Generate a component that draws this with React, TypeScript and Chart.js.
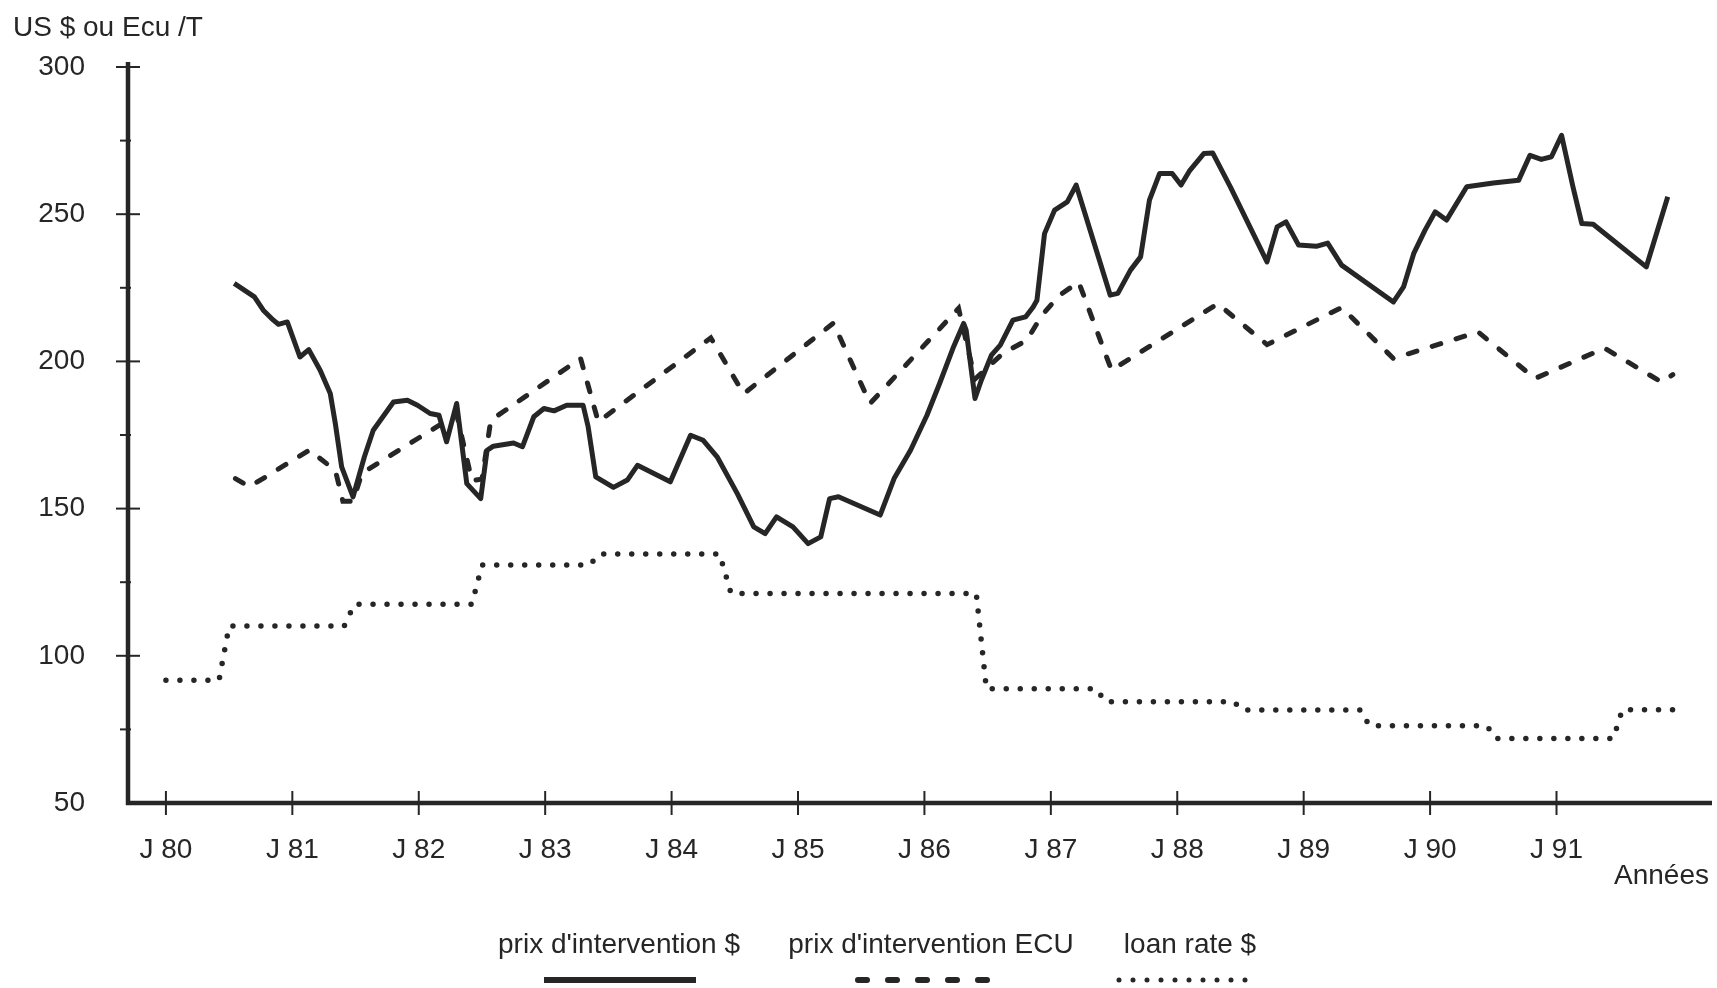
import React, { useEffect, useRef } from 'react';
import { Chart, registerables } from 'chart.js';

Chart.register(...registerables);

// ---------- data ----------
const SOLID_YEARS = [
  80.54, 80.70, 80.77, 80.85, 80.89, 80.96, 81.06, 81.13, 81.22, 81.30, 81.34, 81.39, 81.48,
  81.57, 81.64, 81.80, 81.91, 81.99, 82.09, 82.16, 82.22, 82.30, 82.38, 82.49, 82.54, 82.59,
  82.75, 82.82, 82.91, 82.99, 83.07, 83.17, 83.30, 83.34, 83.40, 83.54, 83.65, 83.73, 83.99,
  84.15, 84.25, 84.36, 84.52, 84.65, 84.74, 84.83, 84.96, 85.08, 85.18, 85.25, 85.32, 85.65,
  85.76, 85.89, 86.02, 86.12, 86.23, 86.31, 86.33, 86.40, 86.45, 86.53, 86.60, 86.70, 86.80,
  86.86, 86.89, 86.95, 87.03, 87.13, 87.20, 87.47, 87.53, 87.63, 87.71, 87.78, 87.86, 87.96,
  88.03, 88.10, 88.21, 88.28, 88.42, 88.71, 88.79, 88.86, 88.96, 89.10, 89.19, 89.30, 89.71,
  89.79, 89.87, 89.96, 90.04, 90.13, 90.29, 90.50, 90.70, 90.79, 90.88, 90.96, 91.04, 91.13,
  91.20, 91.29, 91.71, 91.88,
];
const SOLID_VALUES = [
  226.5, 221.9, 217.4, 214.0, 212.6, 213.4, 201.5, 204.0, 197.0, 189.1, 178.9, 164.2, 154.0,
  167.6, 176.6, 186.2, 186.8, 185.1, 182.3, 181.7, 172.7, 185.7, 158.5, 153.4, 169.8, 171.2,
  172.3, 171.0, 181.2, 184.0, 183.2, 185.1, 185.1, 177.8, 160.8, 157.2, 159.7, 164.7, 159.1,
  174.9, 173.2, 167.6, 155.1, 143.8, 141.5, 147.2, 143.8, 138.1, 140.4, 153.4, 154.0, 147.8,
  160.2, 169.8, 181.7, 192.5, 204.9, 212.9, 210.6, 187.4, 193.6, 202.1, 205.5, 214.0, 215.1,
  218.5, 220.8, 243.4, 251.4, 254.2, 259.9, 222.5, 223.1, 231.0, 235.5, 254.8, 263.8, 263.8,
  259.9, 264.9, 270.6, 270.8, 259.3, 233.8, 245.7, 247.4, 239.5, 239.1, 240.2, 232.7, 220.2,
  225.3, 236.6, 244.6, 250.8, 248.0, 259.3, 260.6, 261.5, 270.0, 268.6, 269.5, 276.8, 259.3,
  246.8, 246.6, 232.1, 255.9,
];

const ECU_YEARS = [
  80.55, 80.66, 81.14, 81.22, 81.34, 81.40, 81.48, 81.55, 82.30, 82.42, 82.50, 82.57, 83.28,
  83.42, 84.31, 84.57, 85.28, 85.57, 86.27, 86.40, 86.62, 86.81, 86.93, 87.07, 87.22, 87.48,
  88.32, 88.71, 89.30, 89.71, 90.38, 90.83, 91.38, 91.83, 91.92,
];
const ECU_VALUES = [
  160.2, 157.4, 170.0, 167.0, 163.0, 152.5, 152.5, 162.0, 182.0, 159.5, 160.0, 180.0, 201.0,
  179.5, 208.0, 189.0, 213.0, 185.7, 218.0, 194.0, 202.7, 207.2, 215.7, 222.5, 227.0, 197.0,
  219.6, 205.7, 218.3, 201.0, 210.0, 194.2, 204.5, 193.0, 195.5,
];

const LOAN_YEARS = [
  80.00, 80.42, 80.50, 81.41, 81.49, 82.42, 82.50, 83.35, 83.43, 84.38, 84.47, 86.41, 86.49,
  87.36, 87.43, 88.45, 88.51, 89.45, 89.52, 90.45, 90.52, 91.45, 91.52, 91.93,
];
const LOAN_VALUES = [
  91.7, 91.7, 110.1, 110.1, 117.5, 117.5, 130.8, 130.8, 134.6, 134.6, 121.2, 121.2, 88.8,
  88.8, 84.4, 84.4, 81.6, 81.6, 76.2, 76.2, 71.9, 71.9, 81.7, 81.7,
];

const TICK_YEARS = [80, 81, 82, 83, 84, 85, 86, 87, 88, 89, 90, 91];
const TICK_LABELS = ['J 80', 'J 81', 'J 82', 'J 83', 'J 84', 'J 85', 'J 86', 'J 87', 'J 88', 'J 89', 'J 90', 'J 91'];
const SERIES_NAMES = ["prix d'intervention $", "prix d'intervention ECU", 'loan rate $'];
const Y_TITLE = 'US $ ou Ecu /T';
const X_TITLE = 'Années';

// ---------- styles ----------
const INK = '#262626';
const FONT_FAMILY = '"Liberation Sans", Arial, Helvetica, sans-serif';
const FONT_SIZE = 28;

const pairs = (xs: number[], ys: number[]) => xs.map((x, i) => ({ x, y: ys[i] }));

const decorPlugin = {
  id: 'decor',
  afterDraw(chart: any) {
    const { ctx, chartArea: a, scales } = chart;
    const xs = scales.x;
    const ys = scales.y;
    ctx.save();
    ctx.strokeStyle = INK;
    ctx.lineCap = 'butt';

    // axis lines
    ctx.lineWidth = 4.5;
    ctx.beginPath();
    ctx.moveTo(a.left, a.top - 5);
    ctx.lineTo(a.left, a.bottom + 2);
    ctx.stroke();
    ctx.beginPath();
    ctx.moveTo(a.left - 2, a.bottom);
    ctx.lineTo(a.right, a.bottom);
    ctx.stroke();

    // y ticks (major every 50, minor every 25)
    ctx.lineWidth = 2;
    for (let v = 75; v <= 300; v += 25) {
      const py = ys.getPixelForValue(v);
      const major = v % 50 === 0;
      ctx.beginPath();
      ctx.moveTo(a.left - (major ? 12 : 8), py);
      ctx.lineTo(a.left + (major ? 12 : 3), py);
      ctx.stroke();
    }
    // x ticks crossing the axis
    xs.ticks.forEach((t: any) => {
      const px = xs.getPixelForValue(t.value);
      ctx.beginPath();
      ctx.moveTo(px, a.bottom - 12);
      ctx.lineTo(px, a.bottom + 12);
      ctx.stroke();
    });

    // titles
    ctx.fillStyle = INK;
    ctx.font = `${FONT_SIZE}px ${FONT_FAMILY}`;
    ctx.textBaseline = 'alphabetic';
    ctx.textAlign = 'left';
    ctx.fillText(Y_TITLE, 13, 36);
    ctx.textAlign = 'right';
    ctx.fillText(X_TITLE, a.right - 3, 884);

    // legend: text above, line sample below
    const legend = [
      { cx: 619, x0: 544, x1: 696, dash: [] as number[], width: 6, cap: 'butt' },
      { cx: 931, x0: 858, x1: 992, dash: [9, 21], width: 6, cap: 'round' },
      { cx: 1190, x0: 1119, x1: 1259, dash: [0, 14], width: 5, cap: 'round' },
    ];
    legend.forEach((item, i) => {
      ctx.textAlign = 'center';
      ctx.fillText(SERIES_NAMES[i], item.cx, 953);
      ctx.save();
      ctx.lineWidth = item.width;
      ctx.lineCap = item.cap;
      ctx.setLineDash(item.dash);
      ctx.beginPath();
      ctx.moveTo(item.x0, 980);
      ctx.lineTo(item.x1, 980);
      ctx.stroke();
      ctx.restore();
    });
    ctx.restore();
  },
};

export default function App() {
  const canvasRef = useRef<HTMLCanvasElement | null>(null);

  useEffect(() => {
    if (!canvasRef.current) return;
    const chart = new Chart(canvasRef.current, {
      type: 'line',
      data: {
        datasets: [
          {
            label: SERIES_NAMES[0],
            data: pairs(SOLID_YEARS, SOLID_VALUES),
            borderColor: INK,
            borderWidth: 5,
            borderJoinStyle: 'round',
            pointRadius: 0,
            tension: 0,
          },
          {
            label: SERIES_NAMES[1],
            data: pairs(ECU_YEARS, ECU_VALUES),
            borderColor: INK,
            borderWidth: 5,
            borderDash: [9, 16],
            borderCapStyle: 'round',
            pointRadius: 0,
            tension: 0,
          },
          {
            label: SERIES_NAMES[2],
            data: pairs(LOAN_YEARS, LOAN_VALUES),
            borderColor: INK,
            borderWidth: 5.5,
            borderDash: [0, 14],
            borderCapStyle: 'round',
            pointRadius: 0,
            tension: 0,
          },
        ],
      },
      options: {
        animation: false,
        responsive: true,
        maintainAspectRatio: false,
        devicePixelRatio: 1,
        layout: { padding: { top: 67, right: 5, left: 0, bottom: 0 } },
        plugins: { legend: { display: false }, tooltip: { enabled: false }, title: { display: false } },
        scales: {
          x: {
            type: 'linear',
            min: 79.7,
            max: 92.23,
            grid: { display: false, drawTicks: false },
            border: { display: false },
            afterFit: (s: any) => { s.height = 185; },
            afterBuildTicks: (s: any) => { s.ticks = TICK_YEARS.map((v) => ({ value: v })); },
            ticks: {
              padding: 30,
              color: INK,
              font: { family: FONT_FAMILY, size: FONT_SIZE },
              maxRotation: 0,
              autoSkip: false,
              callback: (v: any) => {
                const i = TICK_YEARS.indexOf(Number(v));
                return i >= 0 ? TICK_LABELS[i] : '';
              },
            },
          },
          y: {
            min: 50,
            max: 300,
            grid: { display: false, drawTicks: false },
            border: { display: false },
            afterFit: (s: any) => { s.width = 128; },
            ticks: {
              stepSize: 50,
              padding: 43,
              color: INK,
              font: { family: FONT_FAMILY, size: FONT_SIZE },
            },
          },
        },
      },
      plugins: [decorPlugin],
    } as any);
    return () => chart.destroy();
  }, []);

  return (
    <div style={{ position: 'fixed', left: 0, top: 0, width: '1717px', height: '988px', background: '#fff' }}>
      <canvas ref={canvasRef} />
    </div>
  );
}
